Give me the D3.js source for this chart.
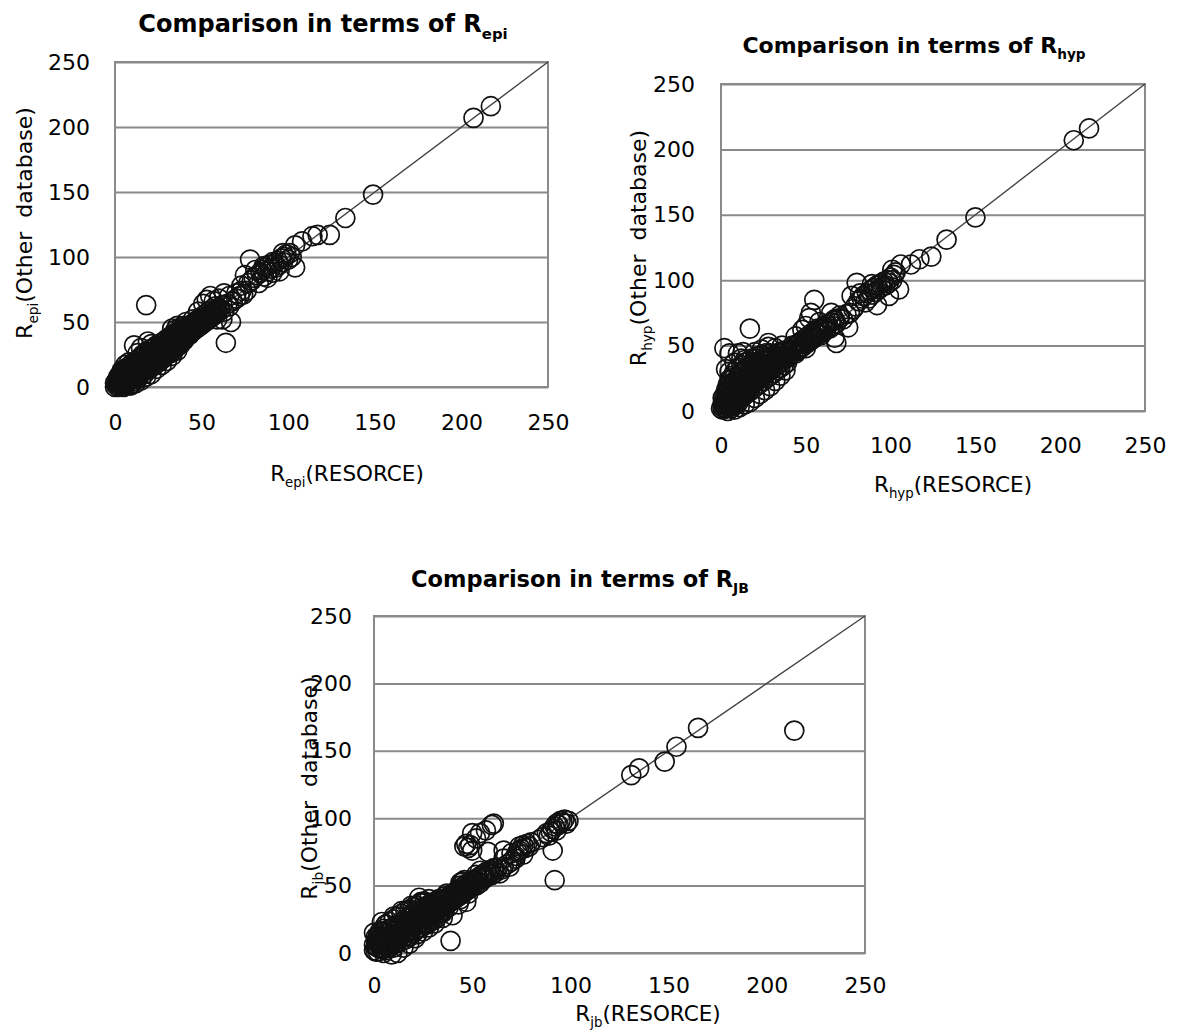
<!DOCTYPE html>
<html>
<head>
<meta charset="utf-8">
<script src="https://cdn.jsdelivr.net/npm/d3@7"></script>
<style>
  body { margin: 0; background: #fff; }
  svg { display: block; font-family: "DejaVu Sans", sans-serif; }
</style>
</head>
<body>
<svg id="chart" width="1183" height="1035"></svg>
<script>
const TICKS = [0, 50, 100, 150, 200, 250];

// R_epi: [RESORCE, other database]
const epiPoints = [
  [1,1],[2,3],[3,1],[1,5],[4,4],[5,2],[2,8],[6,6],[7,3],[3,10],[8,8],[5,12],[9,5],[10,10],[6,14],[11,7],
  [12,12],[8,16],[13,9],[14,14],[10,18],[15,11],[16,16],[12,20],[17,13],[18,18],[14,22],[19,15],[20,20],
  [16,25],[21,17],[22,22],[18,27],[23,19],[24,24],[20,29],[25,21],[26,26],[22,30],[27,23],[28,28],[24,32],
  [29,25],[30,30],[26,33],[31,27],[32,32],[28,35],[33,29],[34,34],[30,37],[35,31],[36,36],[32,39],[37,33],
  [38,38],[34,41],[39,35],[40,40],
  [0,3],[2,0],[4,7],[6,1],[7,9],[9,2],[3,6],[5,9],[8,11],[10,4],[11,13],[13,6],[9,14],[12,9],[15,15],[14,8],
  [11,17],[17,10],[13,19],[16,12],[19,21],[18,13],[15,23],[20,14],[17,24],[21,19],[23,25],[22,16],[19,26],
  [25,27],[24,20],[27,29],[26,22],[23,30],[29,31],[28,24],[31,33],[30,26],[27,34],[33,35],[32,28],[35,37],
  [34,30],[36,39],[38,42],[37,35],[40,44],[39,37],[41,43],
  [4,13],[8,19],[11,32],[15,30],[19,35],[21,33],[13,26],[6,17],
  [5,0],[9,1],[12,3],[15,5],[18,8],[21,10],[24,14],[27,17],[30,20],[33,24],[36,28],
  [0,0],[1,3],[2,5],[3,3],[4,2],[3,8],[4,10],[5,5],[6,4],[5,7],[6,11],[7,7],[7,12],[8,5],[8,14],[9,9],
  [9,12],[10,7],[10,15],[11,11],[11,15],[12,7],[12,15],[13,12],[13,16],[14,11],[14,18],[15,13],[15,19],
  [16,14],[16,20],[17,16],[17,21],[18,15],[18,22],[19,18],[19,24],[20,17],[20,24],[21,22],[21,27],[22,19],
  [22,26],[23,22],[23,28],[24,18],[24,27],[25,24],[25,30],[26,20],[26,29],[27,26],[27,31],[28,22],[28,31],
  [29,28],[29,33],[30,25],[30,33],[31,30],[31,35],[32,26],[32,36],[33,32],[33,38],[34,28],[34,37],[35,34],
  [35,40],[36,31],[36,42],[37,38],[37,43],[38,33],[38,44],[39,40],[39,45],[40,36],[41,39],[42,44],[43,45],
  [44,42],[45,47],[46,44],[47,49],[48,46],[49,51],[50,48],[51,52],[52,50],[53,54],[54,52],[55,56],[56,54],
  [57,58],[58,56],[59,60],
  [42,46],[43,40],[44,48],[45,43],[46,50],[47,45],[48,52],[49,47],[50,54],[51,49],[52,56],[53,51],[54,58],
  [55,53],[56,60],[57,55],[58,62],[59,57],[60,61],[61,59],[62,63],[63,58],[65,64],[66,62],[68,66],[70,68],
  [72,70],[74,71],[76,74],[42,42],[44,44],[46,47],[48,49],[50,51],[52,53],[54,55],[56,57],[58,59],[53,67],
  [55,70],[51,64],[57,66],[60,68],[63,72],[66,70],[70,72],[73,74],[64,34],[67,50],[62,52],[59,52],[48,58],
  [45,52],[40,47],[38,46],[35,44],[18,63],[33,45],[36,47],[41,50],
  [78,98],[75,86],[77,80],[79,82],[80,84],[82,86],[84,88],[85,90],[86,85],[87,92],[88,89],[89,94],[90,91],
  [91,88],[92,95],[93,92],[94,97],[95,94],[96,99],[97,96],[98,100],[99,102],[100,98],[101,103],[102,100],
  [104,92],[83,80],[88,84],[91,96],[95,89],[97,103],[86,93],[81,90],[73,78],
  [104,109],[108,112],[114,116],[117,117],[124,117],[133,130],[149,148],[207,207],[217,216]
];

// R_hyp: [RESORCE, other database]
const hypPoints = [
  [1,1],[2,4],[3,2],[2,8],[4,6],[5,3],[3,12],[6,9],[7,5],[4,16],[8,12],[9,7],[5,20],[10,14],[11,9],[6,24],
  [12,17],[13,11],[7,27],[14,19],[15,13],[8,30],[16,22],[17,15],[10,33],[18,24],[19,17],[12,35],[20,27],
  [21,19],[14,37],[22,29],[23,21],[16,38],[24,31],[25,23],[18,40],[26,33],[27,25],[20,40],[28,35],[29,27],
  [22,42],[30,37],[31,29],[24,43],[32,38],[33,31],[26,44],[34,40],[35,33],[36,42],[37,35],[38,43],[39,37],
  [40,45],
  [1,6],[3,5],[5,10],[6,2],[8,4],[7,14],[9,18],[10,6],[11,21],[12,10],[13,24],[14,13],[15,27],[16,16],
  [17,29],[18,20],[19,31],[20,22],[21,34],[22,24],[23,36],[24,26],[25,38],[26,28],[27,39],[28,30],[29,41],
  [30,32],[31,42],[32,34],[33,44],[34,36],[35,45],[36,38],[37,46],[38,40],[40,41],[41,43],[42,47],
  [2,48],[3,32],[5,30],[5,44],[10,44],[14,39],[13,45],[28,49],[28,52],[36,50],[17,63],[8,37],[12,40],
  [20,45],[24,47],[32,48],
  [4,0],[8,1],[11,3],[14,5],[17,7],[20,10],[23,13],[26,16],[29,19],[32,23],[35,27],[38,31],
  [0,2],[1,3],[1,10],[2,2],[2,12],[3,9],[3,16],[4,3],[4,11],[4,20],[5,7],[5,15],[5,24],[6,5],[6,13],[6,19],
  [7,9],[7,17],[7,22],[8,7],[8,15],[8,21],[8,26],[9,11],[9,15],[9,23],[10,9],[10,18],[10,26],[11,12],
  [11,17],[11,25],[12,13],[12,21],[12,29],[13,15],[13,20],[13,30],[14,16],[14,24],[14,31],[15,17],[15,22],
  [15,33],[16,19],[16,26],[16,34],[17,20],[17,25],[18,22],[18,28],[18,35],[19,23],[19,28],[20,25],[20,31],
  [20,37],[21,23],[21,30],[22,26],[22,33],[22,38],[23,28],[23,33],[24,29],[24,35],[25,31],[25,36],[26,31],
  [26,38],[27,33],[27,41],[28,33],[28,39],[29,35],[29,44],[30,35],[30,42],[31,37],[32,40],[33,38],[34,42],
  [35,41],[36,44],[37,41],[38,46],[39,43],[41,47],[43,46],[44,50],[46,52],[47,49],[49,52],[51,54],[52,56],
  [54,58],[55,57],[57,60],[58,62],[60,63],
  [43,49],[44,44],[45,51],[46,47],[47,53],[48,49],[49,55],[50,51],[51,57],[52,53],[53,59],[54,55],[55,61],
  [56,57],[57,63],[58,59],[59,62],[60,60],[61,64],[62,62],[63,66],[64,63],[65,68],[66,65],[67,70],[68,67],
  [70,71],[72,70],[74,74],[76,75],[78,78],[45,46],[48,52],[50,48],[53,56],[56,60],[59,58],[62,66],[55,85],
  [53,75],[52,71],[50,65],[48,62],[67,69],[65,75],[68,52],[67,56],[75,64],[70,73],[58,68],[42,50],[44,57],
  [80,98],[79,80],[81,84],[83,86],[84,88],[86,90],[87,86],[88,92],[89,89],[90,94],[91,91],[92,96],[93,93],
  [94,97],[95,95],[96,99],[97,96],[98,100],[99,98],[100,102],[101,100],[102,104],[103,106],[92,81],[99,88],
  [105,93],[82,90],[85,83],[77,88],[89,97],
  [101,108],[106,112],[112,112],[117,116],[124,118],[133,131],[150,148],[208,207],[217,216]
];

// R_jb: [RESORCE, other database]
const jbPoints = [
  [0,2],[1,5],[2,1],[1,9],[3,7],[4,3],[2,13],[5,10],[6,5],[3,16],[7,12],[8,7],[5,18],[9,14],[10,9],[6,21],
  [11,16],[12,11],[8,23],[13,18],[14,13],[10,25],[15,20],[16,15],[12,27],[17,22],[18,17],[14,29],[19,24],
  [20,19],[16,31],[21,26],[22,21],[18,32],[23,28],[24,23],[20,34],[25,30],[26,25],[22,35],[27,32],[28,27],
  [24,37],[29,34],[30,29],[26,38],[31,35],[32,31],[28,40],[33,37],[34,33],[35,39],[36,35],[37,41],[38,37],
  [39,43],[40,39],[41,45],[42,41],[43,47],[44,43],
  [0,6],[2,4],[4,8],[6,2],[3,11],[5,14],[7,9],[8,4],[9,18],[10,12],[11,7],[12,19],[13,14],[14,9],[15,24],
  [16,18],[17,12],[18,26],[19,20],[20,15],[21,29],[22,24],[23,18],[24,31],[25,26],[26,21],[27,35],[28,29],
  [29,24],[30,36],[31,31],[32,26],[33,40],[34,35],[35,30],[36,42],[38,40],[40,44],[42,46],
  [6,21],[0,15],[24,38],[4,23],[23,41],[14,31],[10,27],[19,35],
  [5,0],[9,-1],[12,0],[15,4],[18,7],[21,11],[25,16],[28,19],[31,22],[35,26],[40,28],[39,9],
  [1,1],[1,12],[2,7],[2,10],[3,4],[3,13],[4,6],[4,12],[5,3],[5,16],[6,8],[6,12],[7,4],[7,15],[8,10],[8,18],
  [9,7],[9,12],[10,4],[10,16],[11,10],[11,20],[12,8],[12,14],[13,11],[13,21],[14,16],[14,23],[15,12],
  [15,17],[16,10],[16,22],[17,15],[17,26],[18,12],[18,21],[19,16],[19,28],[20,23],[20,30],[21,17],[21,22],
  [22,14],[22,28],[23,22],[23,33],[24,19],[24,27],[25,22],[25,33],[26,28],[26,34],[27,21],[27,28],[28,25],
  [28,35],[29,30],[29,37],[30,24],[30,32],[31,28],[31,38],[32,34],[33,29],[33,35],[34,30],[34,39],[35,35],
  [36,32],[36,39],[37,36],[37,44],[38,34],[39,38],[40,41],[41,40],[42,43],[43,42],[44,46],[45,45],[46,48],
  [47,47],[48,50],[49,49],[50,52],[51,51],[52,54],[53,53],[55,55],[56,58],[58,59],[59,59],[61,61],[63,63],
  [45,49],[46,45],[47,51],[48,47],[49,52],[50,49],[51,54],[52,50],[53,56],[54,52],[55,58],[56,55],[57,60],
  [58,57],[59,61],[60,58],[61,63],[62,60],[64,59],[65,62],[66,64],[68,66],[69,64],[70,68],[44,52],[46,54],
  [48,44],[50,54],[54,61],[57,56],[52,58],[44,50],[45,53],[43,36],[44,40],[47,38],
  [47,81],[49,80],[50,76],[48,78],[46,79],[54,89],[52,85],[50,89],[60,95],[61,96],[58,75],[66,76],[57,91],
  [72,72],[73,75],[74,79],[75,77],[76,80],[77,78],[78,81],[79,79],[80,82],[72,70],[74,76],[84,84],[86,86],
  [88,89],[89,87],[90,90],[91,92],[92,94],[93,96],[94,95],[95,98],[96,97],[97,99],[98,96],[99,98],[93,91],
  [91,76],[92,54],[66,70],[70,74],[76,73],
  [131,132],[135,137],[148,142],[154,153],[165,167],[214,165]
];

const panels = [
  {
    points: epiPoints, xSub: "epi", ySub: "epi", titleSub: "epi",
    plot: { left: 115, right: 548, top: 62, bottom: 387 },
    title: { x: 323, y: 32, size: 24 },
    xTitle: { x: 347, y: 481 }, yTitle: { x: 32, y: 223 },
    yLabelGap: 25, xLabelOffset: 35
  },
  {
    points: hypPoints, xSub: "hyp", ySub: "hyp", titleSub: "hyp",
    plot: { left: 721, right: 1145, top: 84, bottom: 411 },
    title: { x: 914, y: 53, size: 22 },
    xTitle: { x: 953, y: 492 }, yTitle: { x: 646, y: 248 },
    yLabelGap: 26, xLabelOffset: 34
  },
  {
    points: jbPoints, xSub: "jb", ySub: "jb", titleSub: "JB",
    plot: { left: 374, right: 865, top: 616, bottom: 953 },
    title: { x: 580, y: 587, size: 22.5 },
    xTitle: { x: 648, y: 1021 }, yTitle: { x: 317, y: 788 },
    yLabelGap: 22, xLabelOffset: 32
  }
];

const svg = d3.select("#chart");

function subText(sel, main, sub, rest, size) {
  sel.attr("font-size", size);
  sel.append("tspan").text(main);
  sel.append("tspan").text(sub).attr("font-size", size * 0.62).attr("dy", size * 0.28);
  if (rest) sel.append("tspan").text(rest).attr("dy", -size * 0.28);
}

panels.forEach(p => {
  const x = d3.scaleLinear().domain([0, 250]).range([p.plot.left, p.plot.right]);
  const y = d3.scaleLinear().domain([0, 250]).range([p.plot.bottom, p.plot.top]);
  const w = p.plot.right - p.plot.left;
  const g = svg.append("g");

  // horizontal gridlines
  g.append("g")
    .attr("transform", `translate(${p.plot.left},0)`)
    .call(d3.axisLeft(y).tickValues(TICKS).tickSize(-w).tickFormat(""))
    .call(a => a.select(".domain").remove())
    .call(a => a.selectAll("line").attr("stroke", "#8a8a8a").attr("stroke-width", 2));

  // plot frame
  g.append("rect")
    .attr("x", p.plot.left).attr("y", p.plot.top)
    .attr("width", w).attr("height", p.plot.bottom - p.plot.top)
    .attr("fill", "none").attr("stroke", "#8a8a8a").attr("stroke-width", 2);

  // 1:1 line
  g.append("line")
    .attr("x1", x(0)).attr("y1", y(0)).attr("x2", x(250)).attr("y2", y(250))
    .attr("stroke", "#444").attr("stroke-width", 1.4);

  // points
  g.append("g").selectAll("circle")
    .data(p.points)
    .join("circle")
    .attr("cx", d => x(d[0]))
    .attr("cy", d => y(d[1]))
    .attr("r", 9.5)
    .attr("fill", "none")
    .attr("stroke", "#111")
    .attr("stroke-width", 1.7);

  // y tick labels
  g.append("g")
    .attr("transform", `translate(${p.plot.left},0)`)
    .call(d3.axisLeft(y).tickValues(TICKS).tickSize(0).tickPadding(p.yLabelGap))
    .call(a => a.select(".domain").remove())
    .call(a => a.selectAll("text").attr("font-size", 22).attr("font-family", "DejaVu Sans").attr("fill", "#000"));

  // x tick labels
  g.append("g")
    .attr("transform", `translate(0,${p.plot.bottom})`)
    .call(d3.axisBottom(x).tickValues(TICKS).tickSize(0))
    .call(a => a.select(".domain").remove())
    .call(a => a.selectAll("text").attr("y", p.xLabelOffset).attr("dy", "0.36em")
      .attr("font-size", 22).attr("font-family", "DejaVu Sans").attr("fill", "#000"));

  // titles
  const t = g.append("text").attr("x", p.title.x).attr("y", p.title.y)
    .attr("text-anchor", "middle").attr("font-weight", "bold");
  subText(t, "Comparison in terms of R", p.titleSub, null, p.title.size);

  const xt = g.append("text").attr("x", p.xTitle.x).attr("y", p.xTitle.y).attr("text-anchor", "middle");
  subText(xt, "R", p.xSub, "(RESORCE)", 21.5);

  const yt = g.append("text")
    .attr("transform", `translate(${p.yTitle.x},${p.yTitle.y}) rotate(-90)`)
    .attr("text-anchor", "middle")
    .style("white-space", "pre");
  subText(yt, "R", p.ySub, "(Other  database)", 22);
});
</script>
</body>
</html>
